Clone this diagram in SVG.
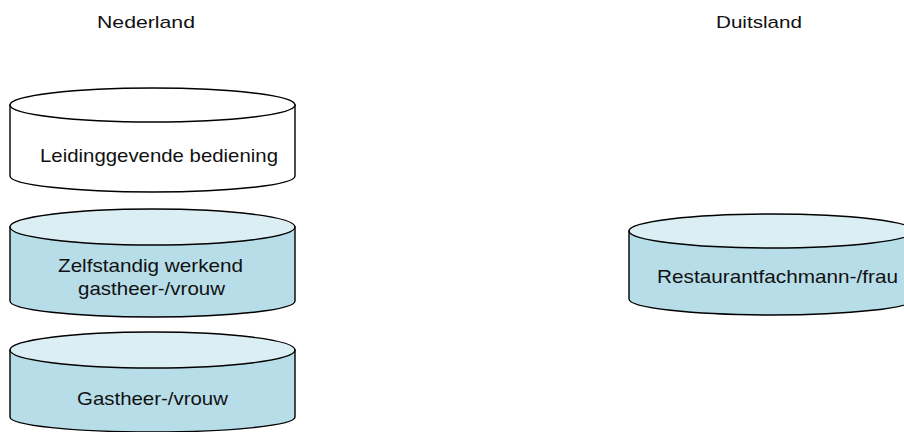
<svg xmlns="http://www.w3.org/2000/svg" width="904" height="432" viewBox="0 0 904 432">
<style>
  .side{stroke:#000;stroke-width:1.4}
  .top{stroke:#000;stroke-width:1.4}
  .white{fill:#ffffff}
  .blueSide{fill:#B7DDE8}
  .blueTop{fill:#DAEEF3}
  text{font-family:"Liberation Sans",Arial,sans-serif;font-size:19px;fill:#111}
  .hdr{font-size:17px}
</style>
<rect width="904" height="432" fill="#ffffff"/>
<g id="header-nl"><text class="hdr" x="97" y="28" textLength="98" lengthAdjust="spacingAndGlyphs">Nederland</text></g>
<g id="header-de"><text class="hdr" x="716" y="28" textLength="86" lengthAdjust="spacingAndGlyphs">Duitsland</text></g>
<g id="node-leidinggevende">
  <path class="side white" d="M10,105 L10,176 A142.5,16 0 0 0 295,176 L295,105 Z"/>
  <ellipse class="top white" cx="152.5" cy="105" rx="142.5" ry="17"/>
  <text x="40" y="162" textLength="238" lengthAdjust="spacingAndGlyphs">Leidinggevende bediening</text>
</g>
<g id="node-zelfstandig">
  <path class="side blueSide" d="M10,227 L10,301 A142.5,16 0 0 0 295,301 L295,227 Z"/>
  <ellipse class="top blueTop" cx="152.5" cy="227" rx="142.5" ry="18"/>
  <text x="58" y="272" textLength="185" lengthAdjust="spacingAndGlyphs">Zelfstandig werkend</text>
  <text x="78" y="295" textLength="147" lengthAdjust="spacingAndGlyphs">gastheer-/vrouw</text>
</g>
<g id="node-gastheer">
  <path class="side blueSide" d="M10,350 L10,417 A142.5,15 0 0 0 295,417 L295,350 Z"/>
  <ellipse class="top blueTop" cx="152.5" cy="350" rx="142.5" ry="18"/>
  <text x="77" y="405" textLength="151" lengthAdjust="spacingAndGlyphs">Gastheer-/vrouw</text>
</g>
<g id="node-restaurantfachmann">
  <path class="side blueSide" d="M629,231 L629,299 A142.5,16 0 0 0 914,299 L914,231 Z"/>
  <ellipse class="top blueTop" cx="771.5" cy="231" rx="142.5" ry="17"/>
  <text x="657" y="283" textLength="241" lengthAdjust="spacingAndGlyphs">Restaurantfachmann-/frau</text>
</g>
<g id="connectors"></g>
</svg>
